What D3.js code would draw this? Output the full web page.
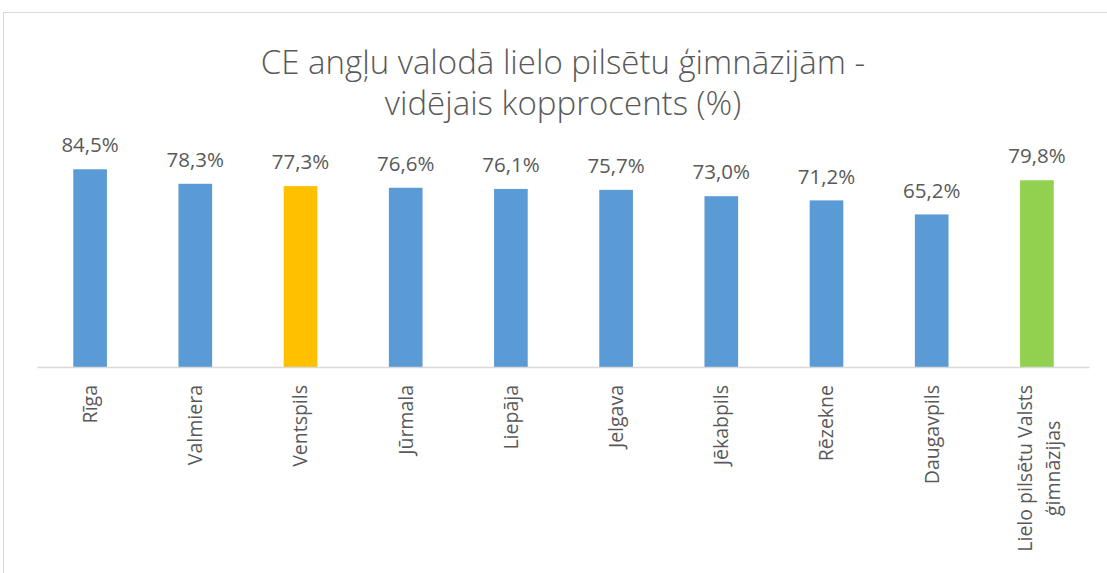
<!DOCTYPE html>
<html>
<head>
<meta charset="utf-8">
<script src="https://cdn.jsdelivr.net/npm/d3@7"></script>
<style>
  body { margin: 0; background: #fff; }
  text { font-family: "Open Sans", sans-serif; fill: #595959; }
</style>
</head>
<body>
<svg id="chart"></svg>
<script>
const pilsetas = ['Rīga', 'Valmiera', 'Ventspils', 'Jūrmala', 'Liepāja', 'Jelgava', 'Jēkabpils', 'Rēzekne', 'Daugavpils', 'Lielo pilsētu Valsts|ģimnāzijas']
const kopprocents = [84.5, 78.3, 77.3, 76.6, 76.1, 75.7, 73.0, 71.2, 65.2, 79.8]
const krasas = ['#5B9BD5', '#5B9BD5', '#FFC000', '#5B9BD5', '#5B9BD5', '#5B9BD5', '#5B9BD5', '#5B9BD5', '#5B9BD5', '#92D050']
const virsraksts = ['CE angļu valodā lielo pilsētu ģimnāzijām -', 'vidējais kopprocents (%)']

const width = 1107
const height = 573
const svg = d3.select('#chart')
  .attr('width', width)
  .attr('height', height)

// chart frame
svg.append('rect')
  .attr('x', 3.5).attr('y', 12.5)
  .attr('width', width + 10).attr('height', height + 10)
  .style('fill', 'none')
  .style('stroke', '#d9d9d9')

const x = d3.scaleBand()
  .domain(d3.range(pilsetas.length))
  .range([37.5, 1089.5])
  .paddingInner(0.68)
  .paddingOuter(0.34)

const y = d3.scaleLinear()
  .domain([0, 100])
  .range([367, 133])

const g = svg.append('g')

g.selectAll('.bar').data(kopprocents).join('rect')
  .attr('class', 'bar')
  .attr('x', (d, i) => x(i))
  .attr('y', (d) => y(d))
  .attr('width', x.bandwidth())
  .attr('height', (d) => y(0) - y(d))
  .style('fill', (d, i) => krasas[i])

g.selectAll('.val').data(kopprocents).join('text')
  .attr('class', 'val')
  .attr('x', (d, i) => x(i) + x.bandwidth() / 2)
  .attr('y', (d) => y(d) - 24)
  .attr('dy', '0.35em')
  .attr('text-anchor', 'middle')
  .style('font-size', '20.5px')
  .text((d) => d.toFixed(1).replace('.', ',') + '%')

// axis line
svg.append('line')
  .attr('x1', x.range()[0]).attr('x2', x.range()[1])
  .attr('y1', y(0) + 0.5).attr('y2', y(0) + 0.5)
  .style('stroke', '#d9d9d9')
  .style('stroke-width', 1.5)

// category labels, rotated
const lbl = svg.selectAll('.cat').data(pilsetas).join('text')
  .attr('class', 'cat')
  .attr('transform', (d, i) => `translate(${x(i) + x.bandwidth() / 2}, 385) rotate(-90)`)
  .style('font-size', '19.5px')

lbl.each(function (d) {
  const lines = d.split('|')
  const t = d3.select(this)
  if (lines.length === 1) {
    t.attr('text-anchor', 'end').attr('dy', '0.35em').text(d)
  } else {
    t.attr('text-anchor', 'middle')
    const spans = lines.map((l, k) => t.append('tspan')
      .attr('y', (k - 0.5) * 28 + 2)
      .attr('dy', '0.35em')
      .text(l))
    const garums = d3.max(spans, (s) => s.node().getComputedTextLength())
    spans.forEach((s) => s.attr('x', -garums / 2))
  }
})

svg.selectAll('.title').data(virsraksts).join('text')
  .attr('class', 'title')
  .attr('x', 563)
  .attr('y', (d, i) => 62 + i * 41)
  .attr('dy', '0.35em')
  .attr('text-anchor', 'middle')
  .style('font-size', '33px')
  .style('font-weight', 300)
  .text((d) => d)
</script>
</body>
</html>
